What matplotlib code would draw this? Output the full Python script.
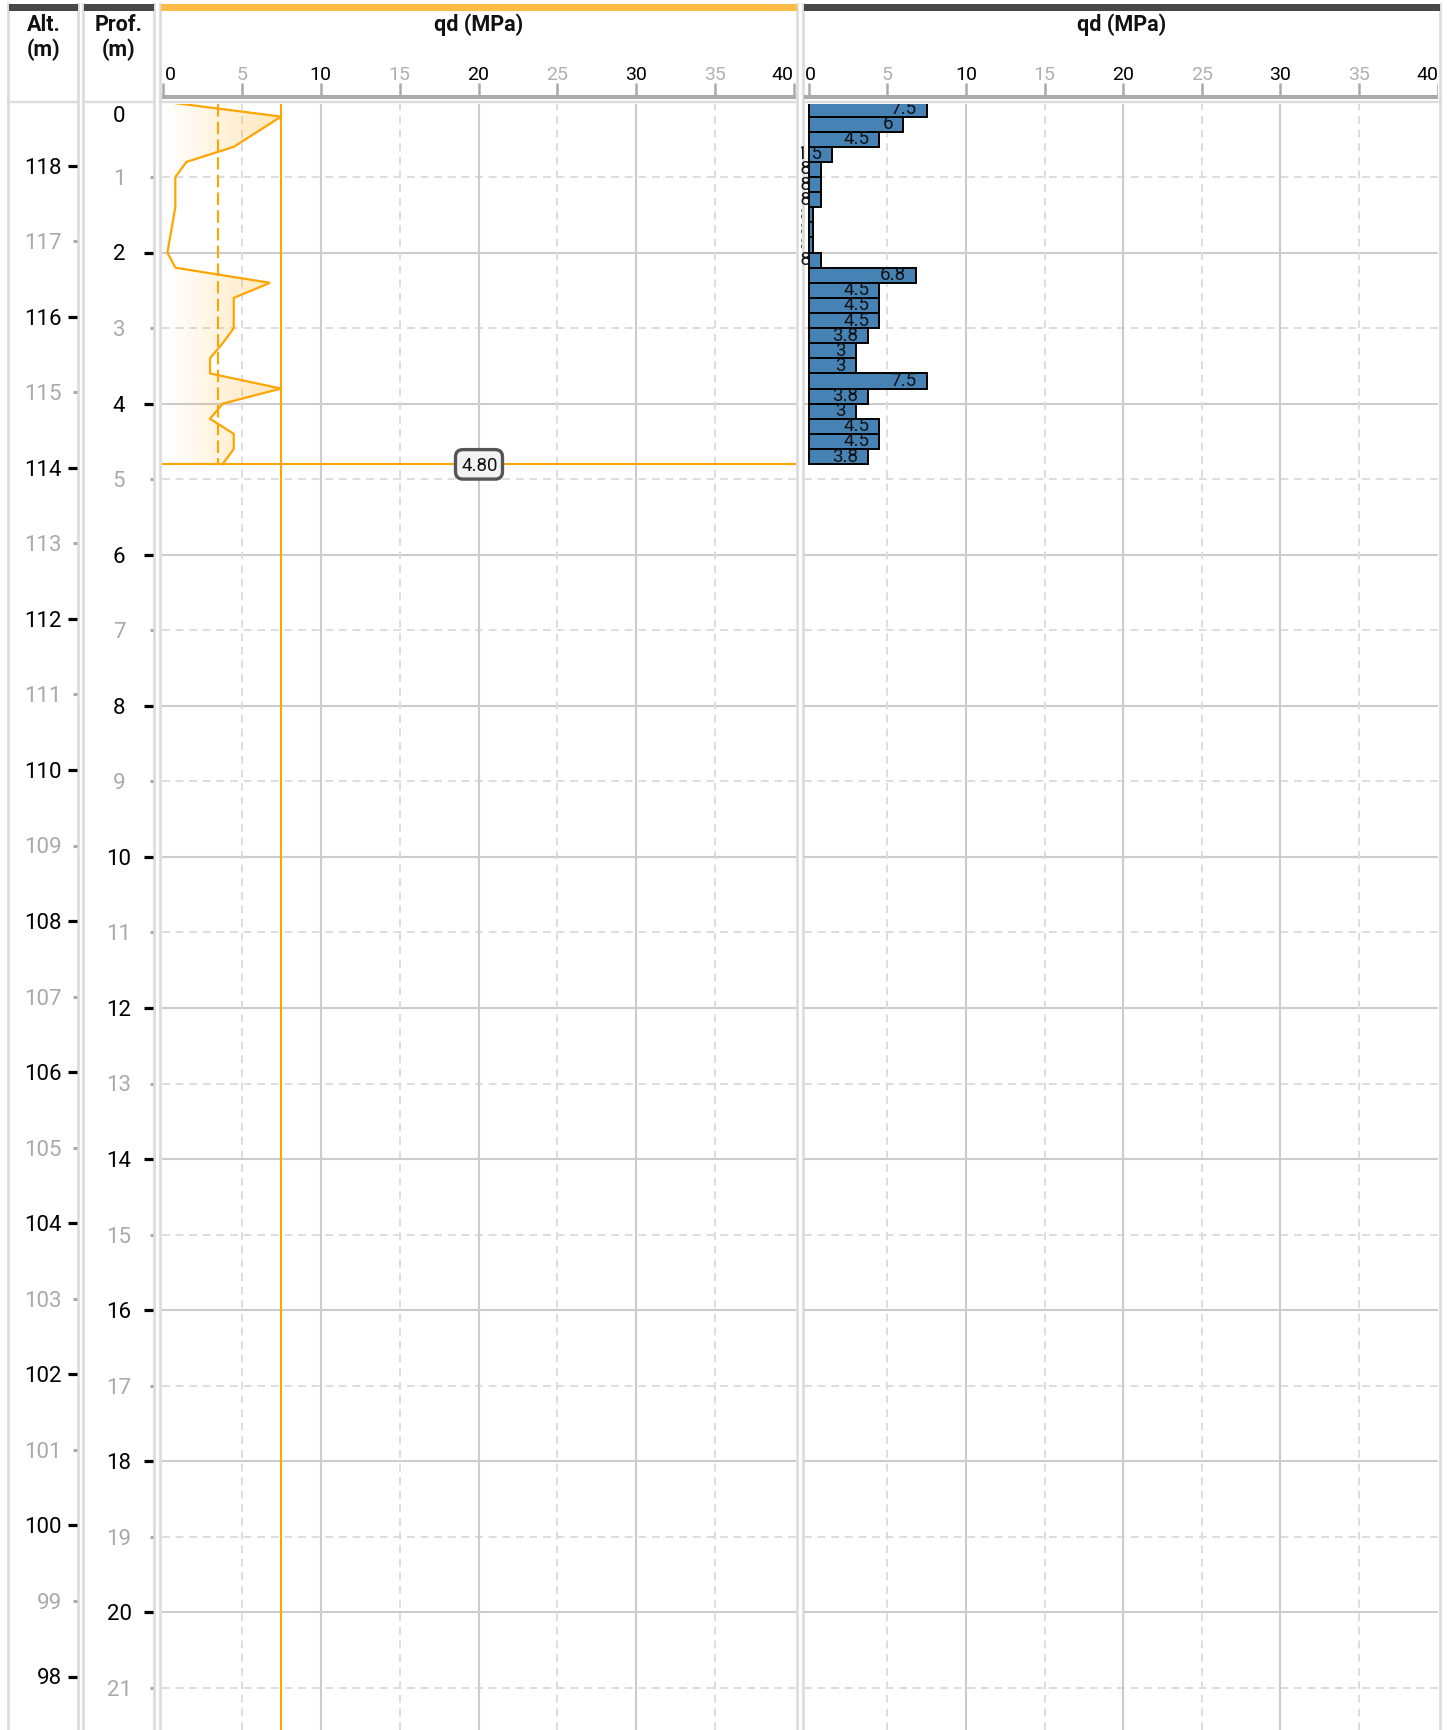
import matplotlib
matplotlib.use("Agg")
import matplotlib.pyplot as plt
import numpy as np
from matplotlib.patches import Polygon, Rectangle, FancyBboxPatch
from matplotlib.lines import Line2D
import matplotlib.transforms as mtransforms

plt.rcParams['font.family'] = ['Roboto', 'DejaVu Sans']

# ---------------- data ----------------
bar_top_depth = [0.0, 0.2, 0.4, 0.6, 0.8, 1.0, 1.2, 1.4, 1.6, 1.8, 2.0, 2.2,
                 2.4, 2.6, 2.8, 3.0, 3.2, 3.4, 3.6, 3.8, 4.0, 4.2, 4.4, 4.6]
bar_thickness = 0.2
bar_qd = [7.5, 6, 4.5, 1.5, 0.8, 0.8, 0.8, 0.3, 0.3, 0.3, 0.8, 6.8,
          4.5, 4.5, 4.5, 3.8, 3, 3, 7.5, 3.8, 3, 4.5, 4.5, 3.8]

line_depth = [0.0, 0.2, 0.4, 0.6, 0.8, 1.0, 1.2, 1.4, 2.0, 2.2, 2.4, 2.6,
              2.8, 3.0, 3.2, 3.4, 3.6, 3.8, 4.0, 4.2, 4.4, 4.6, 4.8]
line_qd = [0, 7.5, 6, 4.5, 1.5, 0.8, 0.8, 0.8, 0.3, 0.8, 6.8, 4.5,
           4.5, 4.5, 3.8, 3, 3, 7.5, 3.8, 3, 4.5, 4.5, 3.8]

qd_mean = 3.5
qd_max = 7.5
end_depth = 4.8
end_label = "4.80"
end_label_x = 20
alt_ref = 118.85

x_ticks = [0, 5, 10, 15, 20, 25, 30, 35, 40]
depth_ticks = list(range(0, 22))
alt_ticks = list(range(98, 119))
panel_title = "qd (MPa)"

# ---------------- layout (pixels) ----------------
W, H = 1447, 1730
fig = plt.figure(figsize=(W / 100, H / 100), dpi=100)

def px_rect(x0, y0, x1, y1):
    return [x0 / W, 1 - y1 / H, (x1 - x0) / W, (y1 - y0) / H]

PLOT_TOP = 104
PX_PER_M = 75.54
DEPTH0_Y = 101.5
YLIM = ((H - DEPTH0_Y) / PX_PER_M, (PLOT_TOP - DEPTH0_Y) / PX_PER_M)

ORANGE = '#FFA500'
GRID_MAJ = '#cccccc'
GRID_MIN = '#dddddd'
TICK_GREY = '#aaaaaa'
BORDER = '#dcdcdc'

cols = {
    'alt': (9.5, 76.8),
    'prof': (84.8, 153.0),
    'left': (161.7, 795.9),
    'right': (800.6, 1438.2),
}
borders = {
    'alt': (8.2, 78.2, '#484848'),
    'prof': (83.4, 154.4, '#484848'),
    'left': (160.3, 797.3, '#FFBB47'),
    'right': (802.8, 1439.5, '#484848'),
}
xlims = {
    'left': (-0.063, 40.1),
    'right': (-0.515, 40.04),
}
axis_span = {
    'left': (-0.063, 40.1),
    'right': (-0.286, 40.04),
}

def px_off(dx, dy):
    return mtransforms.ScaledTranslation(dx / 100, -dy / 100, fig.dpi_scale_trans)

# ---------------- background overlay: borders and header bars ----------------
ov = fig.add_axes([0, 0, 1, 1], zorder=-10)
ov.set_xlim(0, W)
ov.set_ylim(H, 0)
ov.axis('off')
ov.patch.set_alpha(0)
for k, (bl, br, hc) in borders.items():
    for bx in (bl, br):
        ov.add_line(Line2D([bx, bx], [4, H], color=BORDER, lw=1.95))
    ov.add_line(Line2D([bl, br], [102.2, 102.2], color=BORDER, lw=1.7))
    ov.add_patch(Rectangle((bl + 1, 4), br - bl - 1, 6.7, color=hc, lw=0, zorder=5))

# ---------------- data axes ----------------
axes = {}
for k, (x0, x1) in cols.items():
    ax = fig.add_axes(px_rect(x0, PLOT_TOP, x1, H))
    ax.set_ylim(*YLIM)
    if k in xlims:
        ax.set_xlim(*xlims[k])
    else:
        ax.set_xlim(x0, x1)
    ax.axis('off')
    axes[k] = ax

# grid in plot panels
for k in ('left', 'right'):
    ax = axes[k]
    a0, a1 = axis_span[k]
    for d in depth_ticks[1:]:
        if d % 2 == 0:
            ax.hlines(d, a0, a1, color=GRID_MAJ, lw=1.5, zorder=0.5)
        else:
            ax.hlines(d, a0, a1, color=GRID_MIN, lw=1.4, ls=(0, (4, 3)), zorder=0.5)
    for v in x_ticks[1:-1]:
        if v % 10 == 0:
            ax.axvline(v, color=GRID_MAJ, lw=1.5, zorder=0.5)
        else:
            ax.axvline(v, color=GRID_MIN, lw=1.4, ls=(0, (4, 3)), zorder=0.5)

# ---------------- left panel: profile ----------------
axl = axes['left']
poly_pts = [(0, line_depth[0])] + list(zip(line_qd, line_depth)) + [(0, line_depth[-1])]
poly = Polygon(poly_pts, closed=True, fc='none', ec='none', transform=axl.transData)
axl.add_patch(poly)
rgb = matplotlib.colors.to_rgb(ORANGE)
grad = np.zeros((1, 256, 4))
grad[..., 0], grad[..., 1], grad[..., 2] = rgb
grad[..., 3] = np.linspace(0.0, 0.28, 256)
im = axl.imshow(grad, extent=[0, qd_max, end_depth, 0], aspect='auto',
                interpolation='bilinear', zorder=1)
im.set_clip_path(poly)
axl.set_xlim(*xlims['left'])
axl.set_ylim(*YLIM)

axl.plot(line_qd, line_depth, color=ORANGE, lw=1.6, zorder=4, solid_joinstyle='miter')
axl.vlines(qd_mean, YLIM[1], end_depth, color=ORANGE, lw=1.5, ls=(0, (6, 2.5)), zorder=4)
axl.axvline(qd_max, color=ORANGE, lw=1.5, zorder=4)
axl.axhline(end_depth, color=ORANGE, lw=1.5, zorder=4)

# label box (size in pixels, anchored at the data point)
box_tr = fig.dpi_scale_trans + mtransforms.ScaledTranslation(end_label_x, end_depth, axl.transData)
box = FancyBboxPatch((-0.23, -0.15), 0.47, 0.295,
                     boxstyle='round,pad=0,rounding_size=0.075',
                     fc='#f2f2f2', ec='#555555', lw=2.4, transform=box_tr, zorder=6)
axl.add_patch(box)
axl.text(end_label_x, end_depth, end_label, ha='center', va='center_baseline', fontsize=13.5,
         color='#111111', zorder=7, transform=axl.transData + px_off(1, 0))

# ---------------- right panel: bars ----------------
axr = axes['right']
axr.barh(bar_top_depth, bar_qd, height=bar_thickness, align='edge',
         color='#4682B4', edgecolor='black', lw=1.4, zorder=3)
lab_tr = axr.transData + px_off(-10, 0)
for top, v in zip(bar_top_depth, bar_qd):
    axr.text(v, top + bar_thickness / 2, f"{v:g}", transform=lab_tr,
             ha='right', va='center', fontsize=13.5, color='#111111',
             clip_on=True, zorder=5)

# ---------------- altitude / depth columns ----------------
axa = axes['alt']
LAB_FS = 16
lab_shift = px_off(0, 7.9)
for a in alt_ticks:
    d = alt_ref - a
    major = (a % 2 == 0)
    c = 'black' if major else TICK_GREY
    axa.text(62, d, str(a), ha='right', va='baseline', fontsize=LAB_FS, color=c,
             transform=axa.transData + lab_shift)
    if major:
        axa.hlines(d, 67.7, 77.0, color='black', lw=2.3, clip_on=False)
    else:
        axa.hlines(d, 73.3, 77.0, color=TICK_GREY, lw=2.2, clip_on=False)

axp = axes['prof']
for d in depth_ticks:
    major = (d % 2 == 0)
    c = 'black' if major else TICK_GREY
    if d == 0:
        axp.text(119, YLIM[1], str(d), ha='center', va='top', fontsize=LAB_FS, color=c,
                 transform=axp.transData + px_off(0, 2.5))
        continue
    axp.text(119, d, str(d), ha='center', va='baseline', fontsize=LAB_FS, color=c,
             transform=axp.transData + lab_shift)
    if major:
        axp.hlines(d, 144, 153.0, color='black', lw=2.3, clip_on=False)
    else:
        axp.hlines(d, 150, 153.0, color=TICK_GREY, lw=2.2, clip_on=False)

# ---------------- headers ----------------
for k, (x0, x1) in cols.items():
    hx = fig.add_axes(px_rect(x0, 0, x1, PLOT_TOP))
    hx.set_ylim(PLOT_TOP, 0)
    hx.axis('off')
    if k in xlims:
        hx.set_xlim(*xlims[k])
        a0, a1 = axis_span[k]
        xc = (a0 + a1) / 2
        hx.text(xc, 31, panel_title, ha='center', va='baseline', fontsize=15.5,
                fontweight='bold', color='#111111')
        hx.hlines(97, a0, a1, color=TICK_GREY, lw=2.9)
        hx.vlines(x_ticks, 83, 95.5, color=TICK_GREY, lw=1.8)
        for i, v in enumerate(x_ticks):
            c = 'black' if v % 10 == 0 else '#b0b0b0'
            ha = 'center'
            tr = hx.transData
            if i == 0:
                ha = 'left'
                tr = hx.transData + px_off(2.3 if k == 'left' else -3.8, 0)
            elif i == len(x_ticks) - 1:
                ha = 'right'
                tr = hx.transData + px_off(-1 if k == 'left' else 1, 0)
            hx.text(v, 80.5, str(v), ha=ha, va='baseline', fontsize=14, color=c,
                    transform=tr)
    else:
        hx.set_xlim(x0, x1)
        xc = (x0 + x1) / 2 + (0.5 if k == 'alt' else 0)
        first = "Alt." if k == 'alt' else "Prof."
        hx.text(xc, 31, first, ha='center', va='baseline', fontsize=15.5,
                fontweight='bold', color='#111111')
        hx.text(xc, 56.5, "(m)", ha='center', va='baseline', fontsize=15.5,
                fontweight='bold', color='#111111')

fig.savefig("out.png", dpi=100)
